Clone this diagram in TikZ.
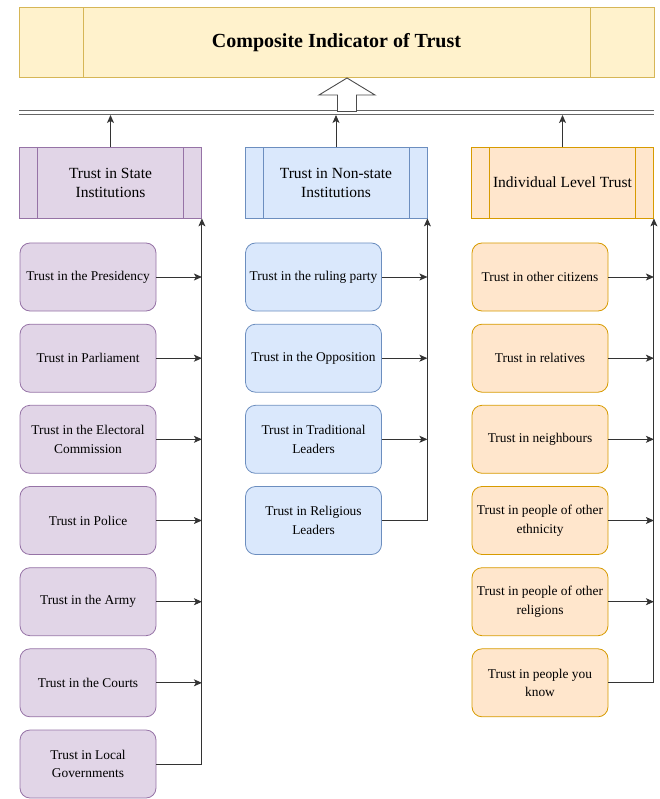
\documentclass[tikz,border=0pt]{standalone}
\usepackage{fontspec}
\setmainfont{Liberation Serif}
\usetikzlibrary{arrows.meta}

\definecolor{topFill}{HTML}{FFF2CC}
\definecolor{topLine}{HTML}{D6B656}
\definecolor{stateFill}{HTML}{E1D5E7}
\definecolor{stateLine}{HTML}{9673A6}
\definecolor{nonFill}{HTML}{DAE8FC}
\definecolor{nonLine}{HTML}{6C8EBF}
\definecolor{indFill}{HTML}{FFE6CC}
\definecolor{indLine}{HTML}{D79B00}
\definecolor{wire}{HTML}{333333}

\tikzset{
  proc/.style n args={3}{draw=#1, fill=#2, line width=0.8pt,
    path picture={
      \draw[#1, line width=0.8pt] ([xshift=#3]path picture bounding box.north west) -- ([xshift=#3]path picture bounding box.south west);
      \draw[#1, line width=0.8pt] ([xshift=-#3]path picture bounding box.north east) -- ([xshift=-#3]path picture bounding box.south east);}},
  hdr/.style={minimum width=182pt, minimum height=71pt, align=center, font=\fontsize{15.5}{19}\selectfont},
  leaf/.style 2 args={draw=#1, fill=#2, rounded corners=10pt, line width=0.8pt,
    minimum width=136pt, minimum height=68pt, align=center, font=\fontsize{13.4}{18.5}\selectfont},
  feed/.style={draw=wire, line width=0.9pt, -{Stealth[length=8pt,width=7pt,inset=2pt]}},
  bus/.style={draw=wire, line width=0.9pt}
}

\begin{document}
\begin{tikzpicture}[x=1pt,y=-1pt]
			%%%%% START %%%%%
			\useasboundingbox (0,0) rectangle (660,799);
			
			\node[proc={topLine}{topFill}{64pt}, minimum width=635pt, minimum height=70pt, font=\fontsize{20}{24}\selectfont\bfseries] (top) at (336.5,42.5) {Composite Indicator of Trust};
			
			\coordinate (busL) at (19,112.5);
			\coordinate (busR) at (654,112.5);
			\draw[draw=black!60, double=white, double distance=3pt, line width=1.4pt] (busL) -- (busR);
			
			\coordinate (tip) at (347,78);
			\draw[draw=black!70, fill=white, line width=0.9pt] (tip) -- ++(28,17) -- ++(-18.5,0) -- ++(0,16.5) -- ++(-19,0) -- ++(0,-16.5) -- ++(-18.5,0) -- cycle;
			
			\node[hdr, proc={stateLine}{stateFill}{18pt}] (hState) at (110.5,182.5) {Trust in State\\Institutions};
			\node[hdr, proc={nonLine}{nonFill}{18pt}] (hNon) at (336,182.5) {Trust in Non-state\\Institutions};
			\node[hdr, proc={indLine}{indFill}{18pt}] (hInd) at (562.5,182.5) {Individual Level Trust};
			
			\draw[feed] (hState.north) -- ([yshift=-2.5pt]hState.north |- busL);
			\draw[feed] (hNon.north) -- ([yshift=-2.5pt]hNon.north |- busL);
			\draw[feed] (hInd.north) -- ([yshift=-2.5pt]hInd.north |- busL);
			
			% state institutions
			\node[leaf={stateLine}{stateFill}] (s1) at (88,277) {Trust in the Presidency};
			\node[leaf={stateLine}{stateFill}] (s2) at (88,358.2) {Trust in Parliament};
			\node[leaf={stateLine}{stateFill}] (s3) at (88,439.3) {Trust in the Electoral\\Commission};
			\node[leaf={stateLine}{stateFill}] (s4) at (88,520.5) {Trust in Police};
			\node[leaf={stateLine}{stateFill}] (s5) at (88,601.7) {Trust in the Army};
			\node[leaf={stateLine}{stateFill}] (s6) at (88,682.8) {Trust in the Courts};
			\node[leaf={stateLine}{stateFill}] (s7) at (88,764) {Trust in Local\\Governments};
			
			\draw[feed] (s7.east) -| (hState.south east);
			\draw[feed] (s1.east) -- (s1 -| hState.east);
			\draw[feed] (s2.east) -- (s2 -| hState.east);
			\draw[feed] (s3.east) -- (s3 -| hState.east);
			\draw[feed] (s4.east) -- (s4 -| hState.east);
			\draw[feed] (s5.east) -- (s5 -| hState.east);
			\draw[feed] (s6.east) -- (s6 -| hState.east);
			
			% non-state institutions
			\node[leaf={nonLine}{nonFill}] (n1) at (313.5,277) {Trust in the ruling party};
			\node[leaf={nonLine}{nonFill}] (n2) at (313.5,358.2) {Trust in the Opposition};
			\node[leaf={nonLine}{nonFill}] (n3) at (313.5,439.3) {Trust in Traditional\\Leaders};
			\node[leaf={nonLine}{nonFill}] (n4) at (313.5,520.5) {Trust in Religious\\Leaders};
			
			\draw[feed] (n4.east) -| (hNon.south east);
			\draw[feed] (n1.east) -- (n1 -| hNon.east);
			\draw[feed] (n2.east) -- (n2 -| hNon.east);
			\draw[feed] (n3.east) -- (n3 -| hNon.east);
			
			% individual level
			\node[leaf={indLine}{indFill}] (i1) at (540,277) {Trust in other citizens};
			\node[leaf={indLine}{indFill}] (i2) at (540,358.2) {Trust in relatives};
			\node[leaf={indLine}{indFill}] (i3) at (540,439.3) {Trust in neighbours};
			\node[leaf={indLine}{indFill}] (i4) at (540,520.5) {Trust in people of other\\ethnicity};
			\node[leaf={indLine}{indFill}] (i5) at (540,601.7) {Trust in people of other\\religions};
			\node[leaf={indLine}{indFill}] (i6) at (540,682.8) {Trust in people you\\know};
			
			\draw[feed] (i6.east) -| (hInd.south east);
			\draw[feed] (i1.east) -- (i1 -| hInd.east);
			\draw[feed] (i2.east) -- (i2 -| hInd.east);
			\draw[feed] (i3.east) -- (i3 -| hInd.east);
			\draw[feed] (i4.east) -- (i4 -| hInd.east);
			\draw[feed] (i5.east) -- (i5 -| hInd.east);
			
			%%%%% END %%%%%
\end{tikzpicture}
\end{document}
